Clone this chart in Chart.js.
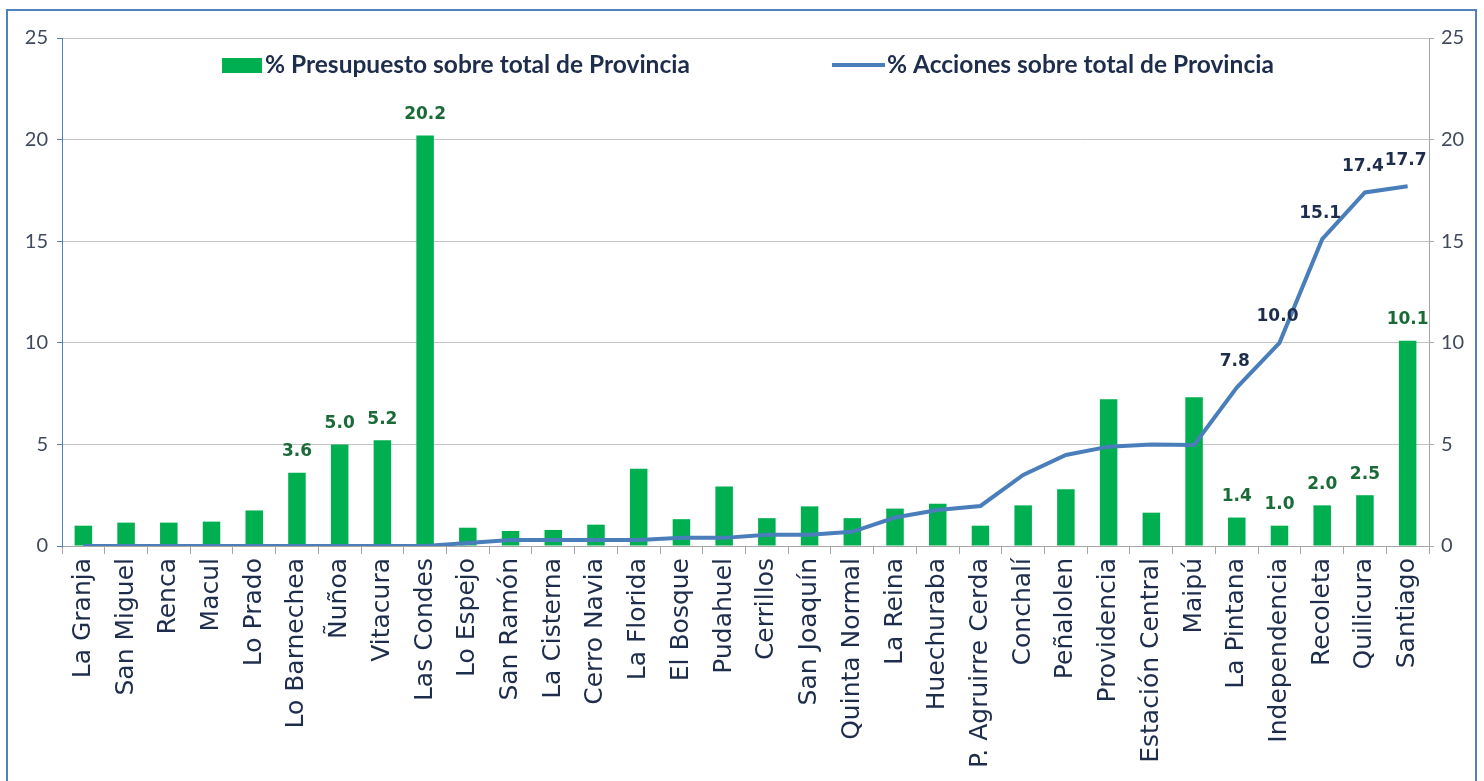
<!DOCTYPE html>
<html>
<head>
<meta charset="utf-8">
<script src="https://cdn.jsdelivr.net/npm/chart.js@4"></script>
<style>
  html, body { margin: 0; padding: 0; background: #fff; overflow: hidden; }
  .wrap { position: relative; width: 1484px; height: 781px; }
  .frame {
    position: absolute; left: 6px; top: 9px; width: 1471px; height: 900px;
    border: 2px solid #4f81bd; box-sizing: border-box; pointer-events: none;
  }
</style>
</head>
<body>
<div class="wrap">
  <canvas id="myChart"></canvas>
  <div class="frame"></div>
</div>
<script>
const comunas = [
  "La Granja", "San Miguel", "Renca", "Macul", "Lo Prado", "Lo Barnechea", "Ñuñoa",
  "Vitacura", "Las Condes", "Lo Espejo", "San Ramón", "La Cisterna", "Cerro Navia",
  "La Florida", "El Bosque", "Pudahuel", "Cerrillos", "San Joaquín", "Quinta Normal",
  "La Reina", "Huechuraba", "P. Agruirre Cerda", "Conchalí", "Peñalolen", "Providencia",
  "Estación Central", "Maipú", "La Pintana", "Independencia", "Recoleta", "Quilicura",
  "Santiago"
];
const presupuesto = [
  1.0, 1.15, 1.15, 1.2, 1.75, 3.6, 5.0, 5.2, 20.2, 0.9, 0.74, 0.79, 1.05, 3.8, 1.32, 2.93,
  1.37, 1.95, 1.37, 1.84, 2.08, 1.0, 2.0, 2.79, 7.22, 1.64, 7.32, 1.4, 1.0, 2.0, 2.5, 10.1
];
const acciones = [
  0, 0, 0, 0, 0, 0, 0, 0, 0, 0.15, 0.3, 0.3, 0.3, 0.3, 0.4, 0.4,
  0.55, 0.55, 0.7, 1.4, 1.77, 1.97, 3.5, 4.48, 4.89, 5.0, 4.97, 7.8, 10.0, 15.1, 17.4, 17.7
];
const yTicks = [0, 5, 10, 15, 20, 25];
// which points carry a value label
const barLabelIdx = [5, 6, 7, 8, 27, 28, 29, 30, 31];
const lineLabelIdx = [27, 28, 29, 30, 31];

const GREEN = "#00b050";
const BLUE = "#4a7ebb";
const NAVY = "#1f2d4d";

const valueLabels = {
  id: "valueLabels",
  afterDatasetsDraw(chart) {
    const ctx = chart.ctx;
    ctx.save();
    ctx.font = "bold 17px 'DejaVu Sans'";
    ctx.textAlign = "center";
    ctx.textBaseline = "middle";
    const bars = chart.getDatasetMeta(1).data;
    ctx.fillStyle = "#1a6b37";
    barLabelIdx.forEach(i => {
      ctx.fillText(presupuesto[i].toFixed(1), bars[i].x, bars[i].y - 21);
    });
    const pts = chart.getDatasetMeta(0).data;
    ctx.fillStyle = NAVY;
    lineLabelIdx.forEach(i => {
      ctx.fillText(acciones[i].toFixed(1), pts[i].x - 2, pts[i].y - 26);
    });
    ctx.restore();
  }
};

const customLegend = {
  id: "customLegend",
  afterDraw(chart) {
    const ctx = chart.ctx;
    const a = chart.chartArea;
    const y = a.top + 27;
    ctx.save();
    ctx.font = "bold 24.5px Lato";
    ctx.textBaseline = "middle";
    ctx.fillStyle = GREEN;
    ctx.fillRect(a.left + 160, y - 7, 40, 15);
    ctx.fillStyle = NAVY;
    ctx.fillText("% Presupuesto sobre total de Provincia", a.left + 203, y);
    ctx.strokeStyle = BLUE;
    ctx.lineWidth = 4;
    ctx.beginPath();
    ctx.moveTo(a.left + 770, y);
    ctx.lineTo(a.left + 823, y);
    ctx.stroke();
    ctx.fillText("% Acciones sobre total de Provincia", a.left + 825, y);
    ctx.restore();
  }
};

const tickFont = { family: "Lato", size: 20 };

const ctx = document.getElementById("myChart").getContext("2d");
const myChart = new Chart(ctx, {
  data: {
    labels: comunas,
    datasets: [
      {
        type: "line",
        label: "% Acciones sobre total de Provincia",
        data: acciones,
        yAxisID: "y1",
        borderColor: BLUE,
        backgroundColor: BLUE,
        borderWidth: 4,
        tension: 0,
        pointRadius: 0,
        order: 0,
      },
      {
        type: "bar",
        label: "% Presupuesto sobre total de Provincia",
        data: presupuesto,
        yAxisID: "y",
        backgroundColor: GREEN,
        borderWidth: 0,
        barPercentage: 0.41,
        categoryPercentage: 1,
        order: 1,
      },
    ],
  },
  options: {
    responsive: true,
    maintainAspectRatio: false,
    animation: false,
    layout: { padding: { top: 38, left: 0, right: 0, bottom: 0 } },
    scales: {
      x: {
        offset: true,
        grid: { drawOnChartArea: false, tickLength: 8, color: "#a6a6a6", offset: true },
        border: { color: "#a6a6a6" },
        ticks: {
          autoSkip: false,
          minRotation: 90,
          maxRotation: 90,
          padding: 4,
          color: NAVY,
          font: { family: "DejaVu Sans", size: 25 },
        },
        afterFit: s => { s.height = 235; },
      },
      y: {
        position: "left",
        min: 0,
        max: 25,
        afterBuildTicks: s => { s.ticks = yTicks.map(v => ({ value: v })); },
        grid: { color: "#c4c4c4", tickLength: 5, tickColor: "#4f81bd" },
        border: { color: "#4f81bd" },
        ticks: { padding: 9, color: "#404a5c", font: tickFont },
        afterFit: s => { s.width = 62; },
      },
      y1: {
        position: "right",
        min: 0,
        max: 25,
        afterBuildTicks: s => { s.ticks = yTicks.map(v => ({ value: v })); },
        grid: { drawOnChartArea: false, tickLength: 5, color: "#a6a6a6" },
        border: { color: "#a6a6a6" },
        ticks: { padding: 7, color: "#404a5c", font: tickFont },
        afterFit: s => { s.width = 55; },
      },
    },
    plugins: {
      legend: { display: false },
      tooltip: { enabled: false },
    },
  },
  plugins: [valueLabels, customLegend],
});
</script>
</body>
</html>
